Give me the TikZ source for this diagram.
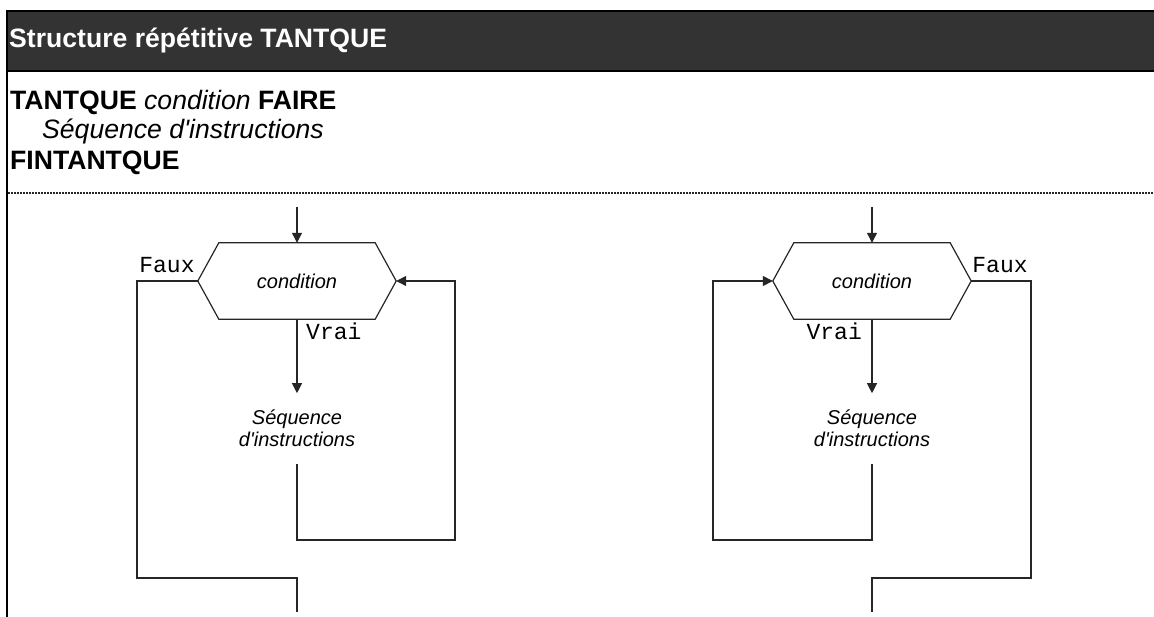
\documentclass[tikz,border=0pt]{standalone}
\usepackage{fontspec}
\defaultfontfeatures[\rmfamily,\sffamily]{}
\setmainfont{Liberation Sans}
\setmonofont{Liberation Mono}
\usepackage{tikz}
\usetikzlibrary{arrows.meta,positioning,calc}
\definecolor{headgray}{HTML}{333333}

\begin{document}
\begin{tikzpicture}[x=1pt,y=-1pt,
cond/.style={inner sep=0pt,minimum width=198pt,minimum height=76pt,font=\fontsize{20}{22}\selectfont\itshape},
seq/.style={inner sep=0pt,minimum height=70pt,align=center,font=\fontsize{20}{22}\selectfont\itshape},
lbl/.style={inner sep=0pt,font=\fontsize{23}{24}\selectfont\ttfamily},
txt/.style={inner sep=0pt,anchor=base west,font=\fontsize{26.6}{30}\selectfont},
flow/.style={line width=1.2pt,draw=black!85},
arr/.style={flow,-{Triangle[length=10pt,width=10pt]}}]
\useasboundingbox (0,0) rectangle (1154,617);
% en-tete
\fill[headgray] (7,11) rectangle (1154,71);
\draw[line width=2pt] (7,11) -- (1154,11);
\draw[line width=2pt] (7,71) -- (1154,71);
\draw[line width=2pt] (7,10) -- (7,617);
\node[txt,text=white,font=\fontsize{26.6}{30}\selectfont\bfseries](titre) at (9,48){Structure répétitive TANTQUE};
\node[txt](syntaxe1) at (10,110){\textbf{TANTQUE} \textit{condition} \textbf{FAIRE}};
\node[txt,font=\fontsize{26.6}{30}\selectfont\itshape](syntaxe2) at (42,139){Séquence d'instructions};
\node[txt,font=\fontsize{26.6}{30}\selectfont\bfseries](syntaxe3) at (10,170){FINTANTQUE};
\draw[line width=1.5pt,black!85,dash pattern=on 2pt off 1pt] (8,193) -- (1154,193);
% organigramme de gauche
\coordinate (in1) at (297,207);
\node[cond](cond1) at (297,281){condition};
\node[seq,below=74pt of cond1](seq1){Séquence\\d'instructions};
\coordinate (loop1) at (455,540);
\coordinate (exit1) at (137,578);
\coordinate (out1) at (297,612);
\draw[flow] (cond1.west) -- ([xshift=21pt]cond1.north west) -- ([xshift=-21pt]cond1.north east)
  -- (cond1.east) -- ([xshift=-21pt]cond1.south east) -- ([xshift=21pt]cond1.south west) -- cycle;
\node[lbl,anchor=base east](faux1) at ([xshift=-3pt,yshift=8pt]cond1.west){Faux};
\node[lbl,anchor=base west](vrai1) at ([xshift=9pt,yshift=-20pt]cond1.south){Vrai};
\draw[arr] (in1) -- (cond1.north);
\draw[arr] (cond1.south) -- (seq1.north);
\draw[arr] (seq1.south) |- (loop1) |- (cond1.east);
\draw[flow] (cond1.west) -| (exit1) -| (out1);
% organigramme de droite
\coordinate (in2) at (872,207);
\node[cond](cond2) at (872,281){condition};
\node[seq,below=74pt of cond2](seq2){Séquence\\d'instructions};
\coordinate (loop2) at (713,540);
\coordinate (exit2) at (1031,578);
\coordinate (out2) at (872,612);
\draw[flow] (cond2.west) -- ([xshift=21pt]cond2.north west) -- ([xshift=-21pt]cond2.north east)
  -- (cond2.east) -- ([xshift=-21pt]cond2.south east) -- ([xshift=21pt]cond2.south west) -- cycle;
\node[lbl,anchor=base west](faux2) at ([xshift=1pt,yshift=8pt]cond2.east){Faux};
\node[lbl,anchor=base east](vrai2) at ([xshift=-10pt,yshift=-20pt]cond2.south){Vrai};
\draw[arr] (in2) -- (cond2.north);
\draw[arr] (cond2.south) -- (seq2.north);
\draw[arr] (seq2.south) |- (loop2) |- (cond2.west);
\draw[flow] (cond2.east) -| (exit2) -| (out2);
\end{tikzpicture}
\end{document}
